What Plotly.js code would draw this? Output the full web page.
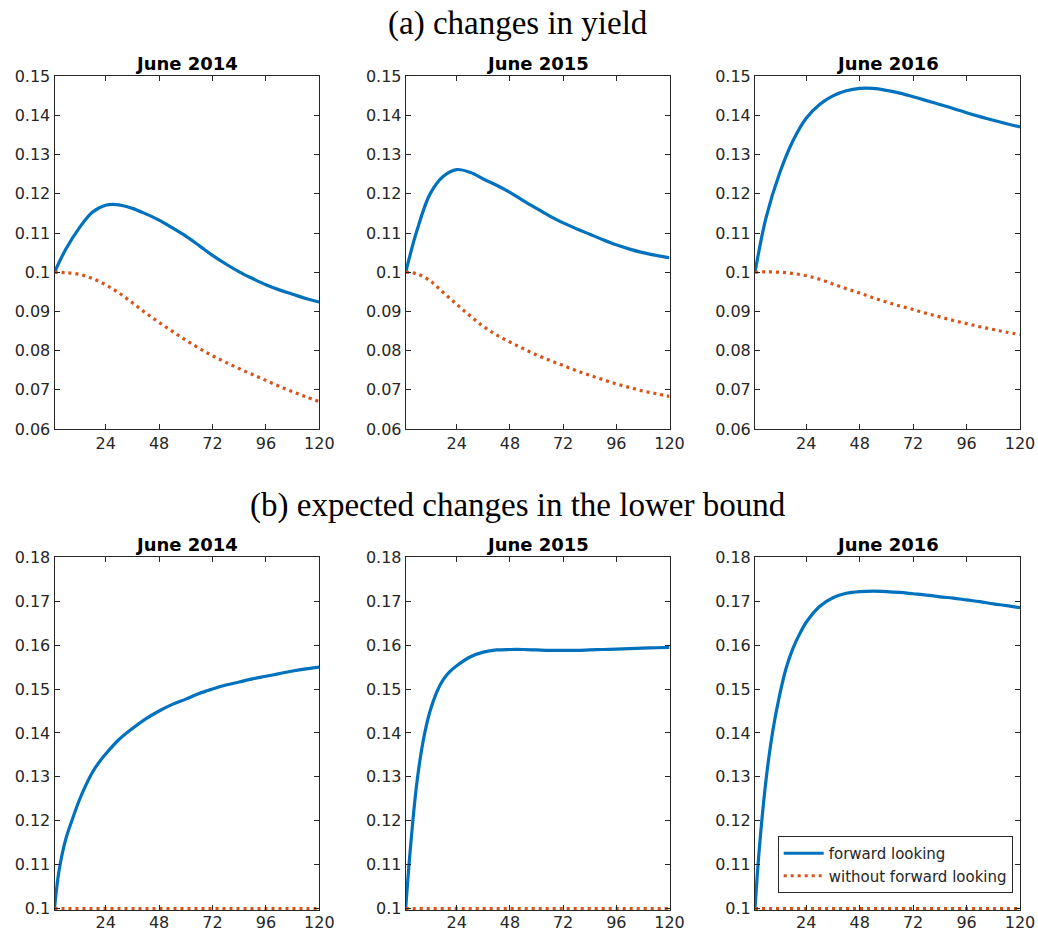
<!DOCTYPE html>
<html>
<head>
<meta charset="utf-8">
<script src="https://cdn.plot.ly/plotly-3.0.1.min.js"></script>
<style>html,body{margin:0;padding:0;background:#fff;}#chart{width:1038px;height:932px;}</style>
</head>
<body>
<div id="chart"></div>
<script>
// ---------- data (months, values) ----------
const panelTitles = ["June 2014", "June 2015", "June 2016"];
const rowHeadings = ["(a) changes in yield", "(b) expected changes in the lower bound"];
const seriesNames = ["forward looking", "without forward looking"];

const xTickVals = [24, 48, 72, 96, 120];
const xTickText = ["24", "48", "72", "96", "120"];
const yTickValsTop = [0.06, 0.07, 0.08, 0.09, 0.10, 0.11, 0.12, 0.13, 0.14, 0.15];
const yTickTextTop = ["0.06", "0.07", "0.08", "0.09", "0.1", "0.11", "0.12", "0.13", "0.14", "0.15"];
const yTickValsBot = [0.10, 0.11, 0.12, 0.13, 0.14, 0.15, 0.16, 0.17, 0.18];
const yTickTextBot = ["0.1", "0.11", "0.12", "0.13", "0.14", "0.15", "0.16", "0.17", "0.18"];

// common month grid for panel (a)
const monthsA = [1, 6, 12, 18, 24, 30, 36, 42, 48, 54, 60, 66, 72, 78, 84, 90, 96, 102, 108, 114, 120];
// (a) yields
const yield2014Fwd = [0.1000, 0.1058, 0.1112, 0.1153, 0.1171, 0.1172, 0.1163, 0.1149, 0.1133, 0.1113, 0.1092, 0.1068, 0.1043, 0.1021, 0.1001, 0.0984, 0.0968, 0.0955, 0.0944, 0.0933, 0.0924];
const yield2014No  = [0.1000, 0.0999, 0.0995, 0.0984, 0.0968, 0.0947, 0.0922, 0.0896, 0.0872, 0.0849, 0.0827, 0.0806, 0.0787, 0.0770, 0.0754, 0.0739, 0.0724, 0.0709, 0.0695, 0.0682, 0.0670];
const yield2015Fwd = [0.1000, 0.1105, 0.1200, 0.1245, 0.1262, 0.1255, 0.1238, 0.1222, 0.1204, 0.1183, 0.1163, 0.1143, 0.1126, 0.1111, 0.1097, 0.1083, 0.1070, 0.1059, 0.1050, 0.1043, 0.1037];
const yield2015No  = [0.1000, 0.0996, 0.0978, 0.0948, 0.0918, 0.0889, 0.0862, 0.0840, 0.0822, 0.0805, 0.0789, 0.0775, 0.0762, 0.0749, 0.0737, 0.0726, 0.0715, 0.0706, 0.0697, 0.0690, 0.0683];
const yield2016Fwd = [0.1000, 0.1140, 0.1252, 0.1335, 0.1393, 0.1428, 0.1450, 0.1463, 0.1469, 0.1469, 0.1464, 0.1457, 0.1448, 0.1438, 0.1428, 0.1418, 0.1407, 0.1397, 0.1388, 0.1379, 0.1371];
const yield2016No  = [0.1000, 0.1001, 0.1000, 0.0997, 0.0991, 0.0982, 0.0970, 0.0958, 0.0947, 0.0935, 0.0924, 0.0914, 0.0905, 0.0895, 0.0886, 0.0877, 0.0869, 0.0861, 0.0854, 0.0847, 0.0841];

// month grid for panel (b), denser early on
const monthsB = [1, 3, 6, 9, 12, 15, 18, 21, 24, 30, 36, 42, 48, 54, 60, 66, 72, 78, 84, 90, 96, 102, 108, 114, 120];
// (b) expected lower bound
const lb2014Fwd = [0.1000, 0.1085, 0.1157, 0.1203, 0.1245, 0.1280, 0.1310, 0.1333, 0.1352, 0.1385, 0.1410, 0.1432, 0.1450, 0.1465, 0.1477, 0.1490, 0.1500, 0.1509, 0.1516, 0.1523, 0.1529, 0.1535, 0.1541, 0.1546, 0.1550];
const lb2015Fwd = [0.1000, 0.1130, 0.1285, 0.1385, 0.1450, 0.1493, 0.1522, 0.1540, 0.1553, 0.1573, 0.1584, 0.1589, 0.1590, 0.1590, 0.1589, 0.1588, 0.1588, 0.1588, 0.1589, 0.1590, 0.1591, 0.1592, 0.1593, 0.1594, 0.1595];
const lb2016Fwd = [0.1000, 0.1140, 0.1295, 0.1405, 0.1485, 0.1548, 0.1592, 0.1625, 0.1652, 0.1688, 0.1708, 0.1718, 0.1722, 0.1723, 0.1722, 0.1720, 0.1717, 0.1714, 0.1710, 0.1707, 0.1703, 0.1699, 0.1694, 0.1690, 0.1685];
// without forward looking: stays at the lower bound
const lbNoX = [1, 120];
const lbNoY = [0.1000, 0.1000];

// ---------- layout helpers ----------
const W = 1038, H = 932;
const colPx = [[54.5, 319.3], [405.7, 669.5], [755.0, 1020.0]];
const rowPx = [[76.3, 429.0], [557.3, 910.3]];
const BLUE = "#0072BD", ORANGE = "#D95319", AX = "#262626";
const tickFont = {family: "DejaVu Sans, Arial, sans-serif", size: 16, color: AX};

const fwdX = [[monthsA, monthsA, monthsA], [monthsB, monthsB, monthsB]];
const fwdY = [[yield2014Fwd, yield2015Fwd, yield2016Fwd], [lb2014Fwd, lb2015Fwd, lb2016Fwd]];
const noX = [[monthsA, monthsA, monthsA], [lbNoX, lbNoX, lbNoX]];
const noY = [[yield2014No, yield2015No, yield2016No], [lbNoY, lbNoY, lbNoY]];

const data = [];
const layout = {
  width: W, height: H,
  margin: {l: 0, r: 0, t: 0, b: 0},
  paper_bgcolor: "#fff", plot_bgcolor: "#fff",
  showlegend: true,
  legend: {
    x: 1012.7 / W, y: 1 - 893 / H, xanchor: "right", yanchor: "bottom",
    bgcolor: "#fff", bordercolor: AX, borderwidth: 1,
    font: {family: "DejaVu Sans, Arial, sans-serif", size: 15, color: AX},
    tracegroupgap: 0, itemwidth: 40
  },
  annotations: []
};

let k = 0;
for (let r = 0; r < 2; r++) {
  for (let c = 0; c < 3; c++) {
    k++;
    const xa = "x" + (k === 1 ? "" : k), ya = "y" + (k === 1 ? "" : k);
    const xKey = "xaxis" + (k === 1 ? "" : k), yKey = "yaxis" + (k === 1 ? "" : k);
    layout[xKey] = {
      domain: [colPx[c][0] / W, colPx[c][1] / W],
      anchor: ya, range: [1, 120],
      tickmode: "array", tickvals: xTickVals, ticktext: xTickText,
      ticks: "inside", ticklen: 5, tickwidth: 1, tickcolor: AX,
      ticklabelstandoff: r === 1 ? -3 : 0,
      showline: true, linecolor: AX, linewidth: 1, mirror: "ticks",
      showgrid: false, zeroline: false, tickfont: tickFont, fixedrange: true
    };
    layout[yKey] = {
      domain: [1 - rowPx[r][1] / H, 1 - rowPx[r][0] / H],
      anchor: xa,
      range: r === 0 ? [0.06, 0.15] : [0.0996, 0.18],
      tickmode: "array",
      tickvals: r === 0 ? yTickValsTop : yTickValsBot,
      ticktext: r === 0 ? yTickTextTop : yTickTextBot,
      ticks: "inside", ticklen: 5, tickwidth: 1, tickcolor: AX,
      showline: true, linecolor: AX, linewidth: 1, mirror: "ticks",
      showgrid: false, zeroline: false, tickfont: tickFont, fixedrange: true
    };
    data.push({
      x: fwdX[r][c], y: fwdY[r][c], xaxis: xa, yaxis: ya,
      type: "scatter", mode: "lines", name: seriesNames[0],
      line: {color: BLUE, width: 3.2, shape: "spline", smoothing: 1},
      showlegend: (r === 1 && c === 2), hoverinfo: "skip"
    });
    data.push({
      x: noX[r][c], y: noY[r][c], xaxis: xa, yaxis: ya,
      type: "scatter", mode: "lines", name: seriesNames[1],
      line: {color: ORANGE, width: 3.2, dash: "3px,4px", shape: "spline", smoothing: 1},
      showlegend: (r === 1 && c === 2), hoverinfo: "skip"
    });
    layout.annotations.push({
      text: "<b>" + panelTitles[c] + "</b>",
      xref: "paper", yref: "paper",
      x: (colPx[c][0] + colPx[c][1]) / 2 / W,
      y: 1 - (rowPx[r][0] - 0.5) / H,
      xanchor: "center", yanchor: "bottom", showarrow: false,
      font: {family: "DejaVu Sans, Arial, sans-serif", size: 18, color: "#000"}
    });
  }
}
const headY = [23, 505];
for (let r = 0; r < 2; r++) {
  layout.annotations.push({
    text: rowHeadings[r], xref: "paper", yref: "paper",
    x: 517.5 / W, y: 1 - headY[r] / H, xanchor: "center", yanchor: "middle",
    showarrow: false,
    font: {family: "Liberation Serif, Times New Roman, serif", size: 33, color: "#000"}
  });
}

Plotly.newPlot("chart", data, layout, {displayModeBar: false, staticPlot: true});
</script>
</body>
</html>
